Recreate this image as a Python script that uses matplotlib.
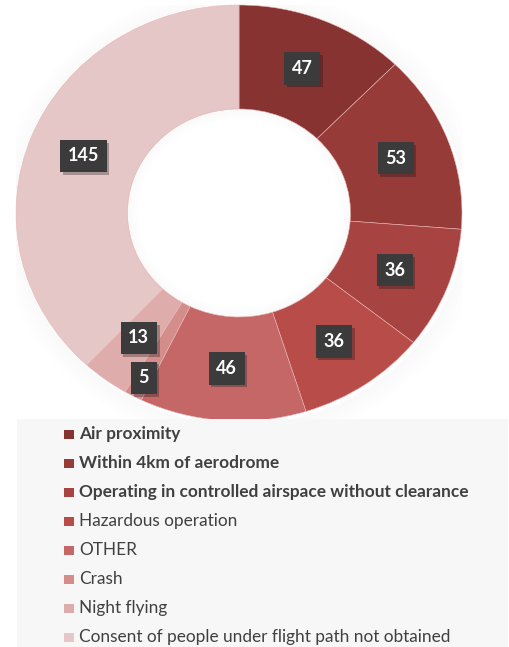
import matplotlib.pyplot as plt
import matplotlib.patheffects as pe
from matplotlib.patches import Rectangle, Ellipse
import numpy as np

# data
categories = [
    "Air proximity",
    "Within 4km of aerodrome",
    "Operating in controlled airspace without clearance",
    "Hazardous operation",
    "OTHER",
    "Crash",
    "Night flying",
    "Consent of people under flight path not obtained",
]
values = [47, 53, 36, 36, 46, 5, 13, 145]
bold_labels = [True, True, True, False, False, False, False, False]
colors = ["#873332", "#973b39", "#a74442", "#b84c49", "#c56766",
          "#d38d8b", "#ddacab", "#e5c7c8"]

W, H = 509, 647
fig = plt.figure(figsize=(W / 100, H / 100), dpi=100)
fig.patch.set_facecolor("white")

# legend background box
fig.patches.append(Rectangle((17 / W, 0), (508 - 17) / W, (H - 419) / H,
                             transform=fig.transFigure, facecolor="#f7f7f7",
                             edgecolor="none", zorder=0))

# pie axes, stretched a bit horizontally like the original
cx, cy, rx, ry = 239, 213, 223, 208
ax = fig.add_axes([(cx - rx) / W, 1 - (cy + ry) / H, 2 * rx / W, 2 * ry / H])
ax.patch.set_alpha(0)

# soft shadow round the ring
for i in range(10):
    s = 1.0 + 0.01 * (i + 1)
    ax.add_patch(Ellipse((0.01, -0.012), 2 * s, 2 * s, facecolor="none",
                         edgecolor="black", lw=2.2, alpha=0.016 * (10 - i) / 10,
                         zorder=0))

wedges, _ = ax.pie(values, colors=colors, startangle=90, counterclock=False,
                   radius=1.0,
                   wedgeprops=dict(width=0.5, edgecolor="#eab5b3", linewidth=0.4))

# faint shading at the edge of the hole
for i in range(6):
    s = 0.498 - 0.008 * i
    ax.add_patch(Ellipse((0, 0), 2 * s, 2 * s, facecolor="none",
                         edgecolor="#808080", lw=2, alpha=0.025 * (6 - i) / 6,
                         zorder=5))

ax.set_aspect("auto")
ax.set_xlim(-1, 1)
ax.set_ylim(-1, 1)
ax.axis("off")

# data labels
label_r = {5: 0.9}
total = sum(values)
cum = 0
for i, v in enumerate(values):
    mid = (cum + v / 2) / total
    cum += v
    ang = np.deg2rad(90 - 360 * mid)
    r = label_r.get(i, 0.75)
    x, y = r * np.cos(ang), r * np.sin(ang)
    t = ax.text(x, y, str(v), ha="center", va="center", fontsize=13,
                fontweight="bold", family="Lato", color="white",
                bbox=dict(boxstyle="square,pad=0.42", facecolor="#3b3b3b",
                          edgecolor="none"), zorder=10)
    t.get_bbox_patch().set_path_effects(
        [pe.SimplePatchShadow(offset=(2, -2), alpha=0.3), pe.Normal()])

# legend
row0, step = 434, 29
for i, (lab, c, b) in enumerate(zip(categories, colors, bold_labels)):
    yc = row0 + i * step
    fig.patches.append(Rectangle((64 / W, 1 - (yc + 4.5) / H), 10 / W, 9 / H,
                                 transform=fig.transFigure, facecolor=c,
                                 edgecolor="none", zorder=2))
    fig.text(79 / W, 1 - yc / H, lab, ha="left", va="center", fontsize=12.4,
             family="Lato", fontweight="bold" if b else "normal",
             color="#404040", zorder=3)

fig.savefig("out.png", dpi=100)
